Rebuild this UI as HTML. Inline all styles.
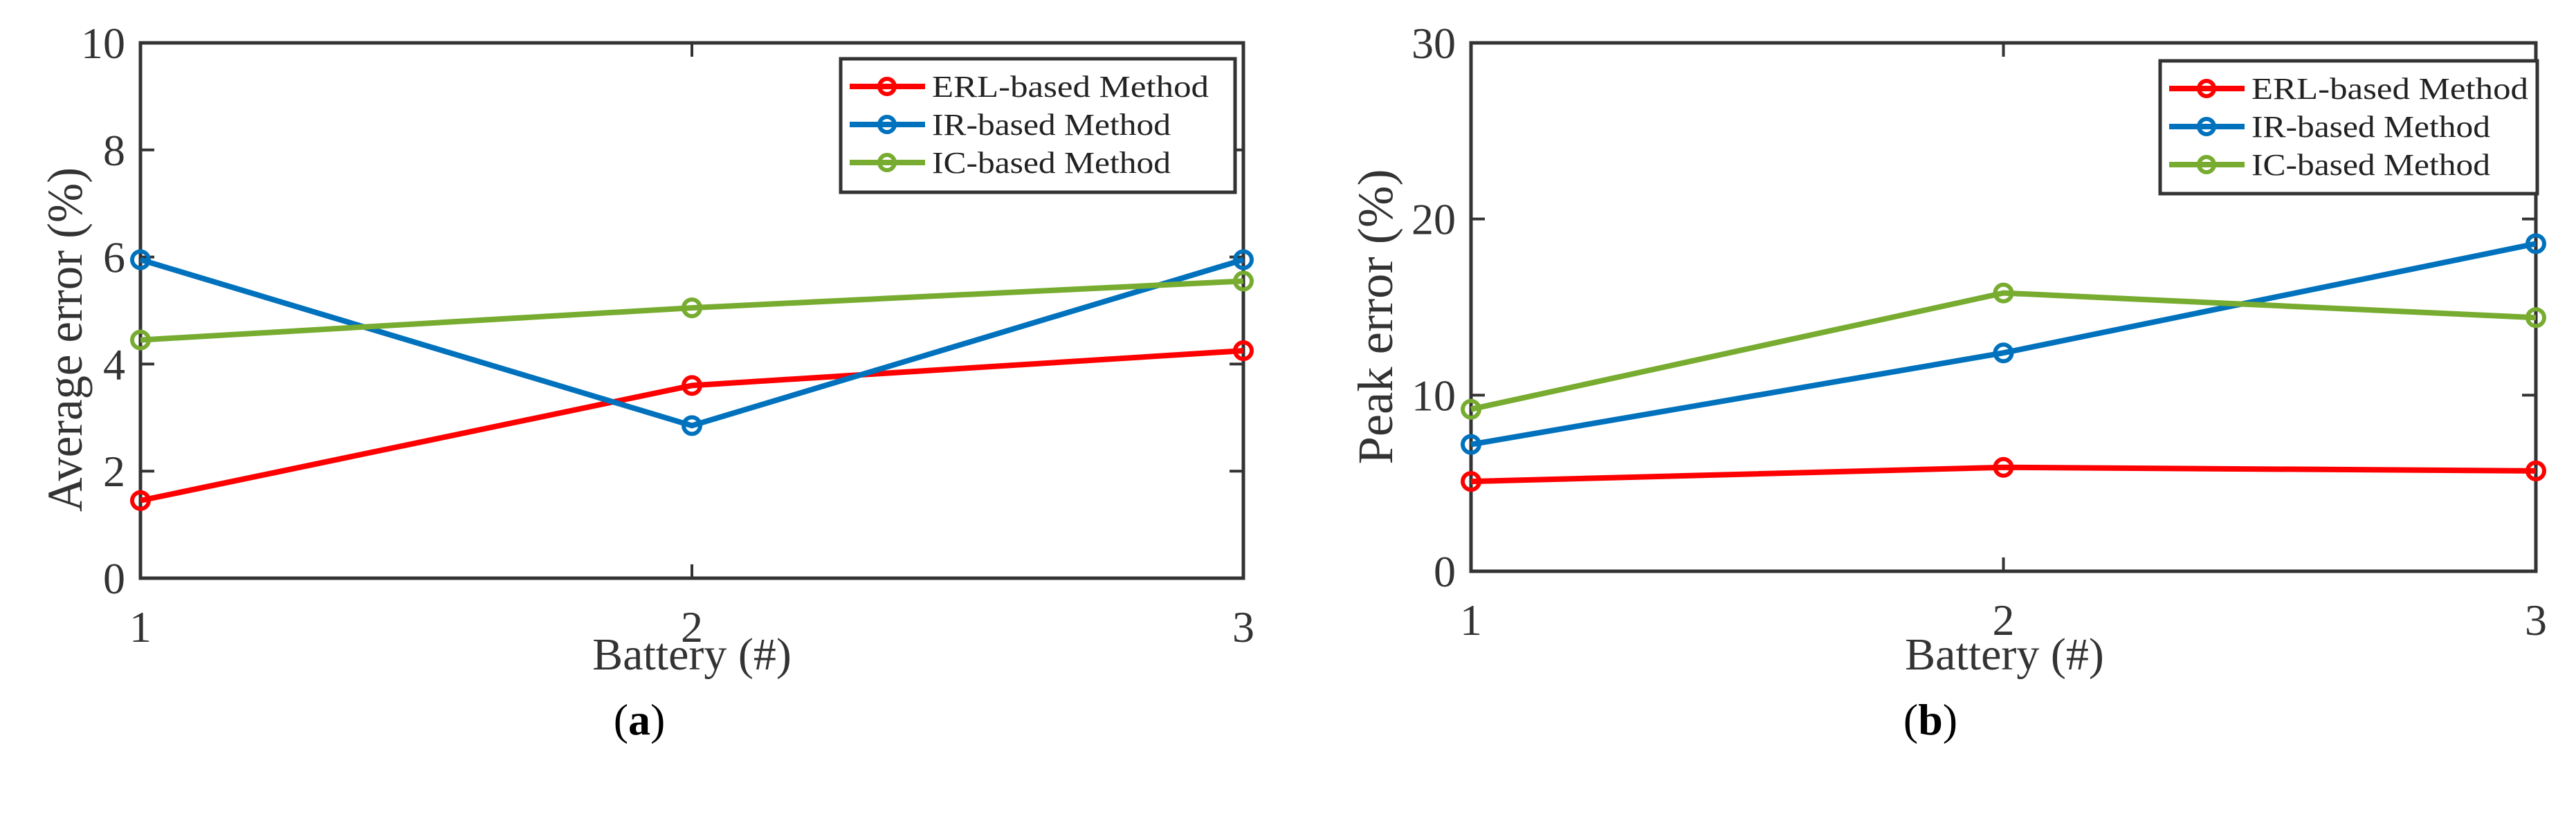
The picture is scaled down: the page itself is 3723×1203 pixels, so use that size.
<!DOCTYPE html>
<html><head><meta charset="utf-8"><style>
html,body{margin:0;padding:0;background:#fff;}
svg{display:block;font-family:"Liberation Serif",serif;}
</style></head><body>
<svg id="fig" width="3723" height="1203" viewBox="0 0 3723 1203"></svg>
<script>
const categories=[1,2,3];
const seriesNames=["ERL-based Method","IR-based Method","IC-based Method"];
const seriesColors=["#ff0000","#0072bd","#77ac30"];
const avgERL=[1.45,3.6,4.25];
const avgIR=[5.95,2.85,5.95];
const avgIC=[4.45,5.05,5.55];
const peakERL=[5.1,5.9,5.7];
const peakIR=[7.2,12.4,18.6];
const peakIC=[9.2,15.8,14.4];
const avgTicks=[0,2,4,6,8,10];
const peakTicks=[0,10,20,30];
const NS="http://www.w3.org/2000/svg";
const svg=document.getElementById('fig');
function mk(tag,attrs,parent,text){const e=document.createElementNS(NS,tag);for(const k in attrs)e.setAttribute(k,attrs[k]);if(text!==undefined)e.textContent=text;(parent||svg).appendChild(e);return e;}
function panel(cfg){
  const g=mk('g',{});
  
  
  const ymax=cfg.ticks[cfg.ticks.length-1];
  const xs=v=>cfg.L+(v-1)/(categories.length-1)*(cfg.R-cfg.L);
  const ys=v=>cfg.B-v/ymax*(cfg.B-cfg.T);
  const frame=mk('rect',{x:cfg.L,y:cfg.T,width:cfg.R-cfg.L,height:cfg.B-cfg.T,fill:'none',stroke:'#333',"stroke-width":5},g);
  
  
  cfg.ticks.forEach(t=>{
    const y=ys(t);
    mk('line',{x1:cfg.L,x2:cfg.L+20,y1:y,y2:y,stroke:'#333',"stroke-width":4},g);
    mk('line',{x1:cfg.R,x2:cfg.R-20,y1:y,y2:y,stroke:'#333',"stroke-width":4},g);
    const tl=mk('text',{x:cfg.L-22,y:y+22,"font-size":64,"text-anchor":"end",fill:'#333'},g,String(t));
    
    
  });
  categories.forEach(c=>{
    const x=xs(c);
    mk('line',{x1:x,x2:x,y1:cfg.B,y2:cfg.B-20,stroke:'#333',"stroke-width":4},g);
    mk('line',{x1:x,x2:x,y1:cfg.T,y2:cfg.T+20,stroke:'#333',"stroke-width":4},g);
    const tl=mk('text',{x:x,y:cfg.B+92,"font-size":64,"text-anchor":"middle",fill:'#333'},g,String(c));
    
    
  });
  cfg.series.forEach((vals,i)=>{
    const pts=vals.map((v,j)=>xs(categories[j])+','+ys(v)).join(' ');
    const pl=mk('polyline',{points:pts,fill:'none',stroke:seriesColors[i],"stroke-width":8,"stroke-linejoin":"round"},g);
    
    
    vals.forEach((v,j)=>{
      const c=mk('circle',{cx:xs(categories[j]),cy:ys(v),r:12,fill:'none',stroke:seriesColors[i],"stroke-width":6},g);
      
      
    });
  });
  const lg=mk('g',{},g);
  
  
  mk('rect',{x:cfg.lg[0],y:cfg.lg[1],width:cfg.lg[2],height:cfg.lg[3],fill:'#fff',stroke:'#333',"stroke-width":5},lg);
  seriesNames.forEach((n,i)=>{
    const y=cfg.lg[1]+40+i*55;
    const x0=cfg.lg[0]+13;
    mk('line',{x1:x0,x2:x0+109,y1:y,y2:y,stroke:seriesColors[i],"stroke-width":8},lg);
    mk('circle',{cx:x0+54,cy:y,r:11,fill:'none',stroke:seriesColors[i],"stroke-width":6},lg);
    const t=mk('text',{x:x0+119,y:y+15,"font-size":44,fill:'#222',textLength:(i==0?400:345),lengthAdjust:'spacingAndGlyphs'},lg,n);
    
    
  });
  const xt=mk('text',{x:cfg.xlx,y:968,"font-size":66,"text-anchor":"middle",fill:'#333'},g,'Battery (#)');
  
  
  const yt=mk('text',{x:0,y:0,"font-size":72,"text-anchor":"middle",fill:'#333',transform:`translate(${cfg.ylx},${cfg.yly}) rotate(-90)`,textLength:cfg.ylen,lengthAdjust:'spacingAndGlyphs'},g,cfg.ylabel);
  
  
  const cap=mk('text',{x:cfg.capx,y:1062,"font-size":64,"text-anchor":"middle",fill:'#000'},g);
  
  
  mk('tspan',{},cap,'(');
  mk('tspan',{"font-weight":"bold"},cap,cfg.cap);
  mk('tspan',{},cap,')');
}
panel({name:'panel-a-average-error',L:203,R:1797,T:62,B:836,ticks:avgTicks,series:[avgERL,avgIR,avgIC],lg:[1215,85,570,193],xlx:1000,ylabel:'Average error (%)',ylx:118,yly:491,ylen:498,capx:924,cap:'a'});
panel({name:'panel-b-peak-error',L:2126,R:3665,T:62,B:826,ticks:peakTicks,series:[peakERL,peakIR,peakIC],lg:[3122,88,545,192],xlx:2897,ylabel:'Peak error (%)',ylx:2012,yly:458,ylen:427,capx:2790,cap:'b'});
</script>
</body></html>
